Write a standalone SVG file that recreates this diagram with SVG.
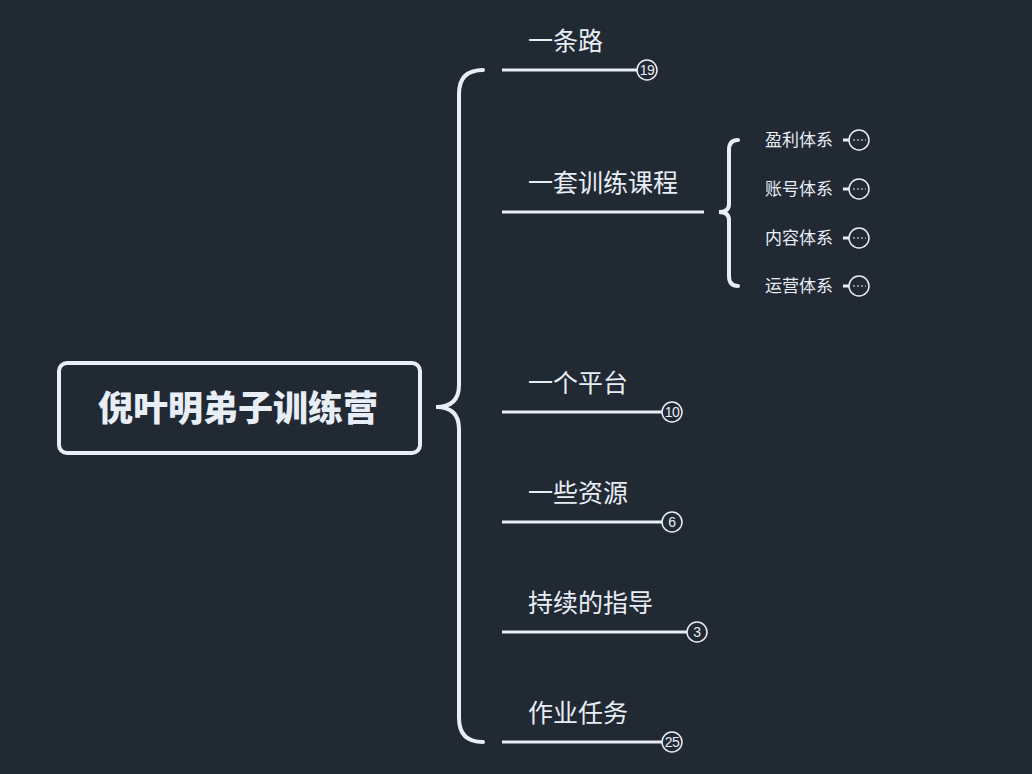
<svg xmlns="http://www.w3.org/2000/svg" width="1032" height="774" viewBox="0 0 1032 774">
<style>
.bg{fill:#212933}
.txt{fill:#e8eef6;font-family:"Noto Sans CJK SC","Noto Sans",sans-serif}
.br{fill:none;stroke:#e8eef6;stroke-width:4;stroke-linecap:round}
.ln{fill:none;stroke:#e8eef6;stroke-width:3}
.cnt{fill:#212933;stroke:#e8eef6;stroke-width:1.5}
.num{fill:#e8eef6;font-family:"Liberation Sans Narrow","Liberation Sans",sans-serif;font-size:14px;text-anchor:middle;letter-spacing:-0.5px}
.dot{stroke:#e8eef6;stroke-width:1;stroke-dasharray:2 2}
</style>
<rect class="bg" width="1032" height="774"/>
<g id="connectors">
<path class="br" d="M483,70 Q459,70 459,94 L459,385 Q459,407 436,407 Q459,407 459,429 L459,718 Q459,742 483,742"/>
<path class="br" d="M738,140 Q729,140 729,150 L729,204 Q729,212 719,212 Q729,212 729,220 L729,276 Q729,286 738,286"/>
<line class="ln" x1="502" y1="70" x2="637" y2="70"/>
<line class="ln" x1="502" y1="212" x2="704" y2="212"/>
<line class="ln" x1="502" y1="412" x2="662" y2="412"/>
<line class="ln" x1="502" y1="522" x2="662" y2="522"/>
<line class="ln" x1="502" y1="632" x2="687" y2="632"/>
<line class="ln" x1="502" y1="742" x2="662" y2="742"/>
<line class="ln" x1="843" y1="140" x2="849" y2="140"/>
<line class="ln" x1="843" y1="189" x2="849" y2="189"/>
<line class="ln" x1="843" y1="238" x2="849" y2="238"/>
<line class="ln" x1="843" y1="286" x2="849" y2="286"/>
</g>
<g id="root">
<rect x="59" y="363" width="361" height="90" rx="8" fill="#212933" stroke="#e8eef6" stroke-width="4"/>
<text class="txt" x="238" y="421" font-size="35" font-weight="900" text-anchor="middle">倪叶明弟子训练营</text>
</g>
<g id="n1">
<text class="txt" x="528" y="50" font-size="25">一条路</text>
<circle class="cnt" cx="647" cy="70" r="10"/><text class="num" x="647" y="75">19</text>
</g>
<g id="n2">
<text class="txt" x="528" y="192" font-size="25">一套训练课程</text>
</g>
<g id="n2a">
<text class="txt" x="765" y="146" font-size="17">盈利体系</text>
<circle class="cnt" cx="859" cy="140" r="10"/><line class="dot" x1="853" y1="140" x2="866" y2="140"/>
</g>
<g id="n2b">
<text class="txt" x="765" y="195" font-size="17">账号体系</text>
<circle class="cnt" cx="859" cy="189" r="10"/><line class="dot" x1="853" y1="189" x2="866" y2="189"/>
</g>
<g id="n2c">
<text class="txt" x="765" y="244" font-size="17">内容体系</text>
<circle class="cnt" cx="859" cy="238" r="10"/><line class="dot" x1="853" y1="238" x2="866" y2="238"/>
</g>
<g id="n2d">
<text class="txt" x="765" y="292" font-size="17">运营体系</text>
<circle class="cnt" cx="859" cy="286" r="10"/><line class="dot" x1="853" y1="286" x2="866" y2="286"/>
</g>
<g id="n3">
<text class="txt" x="528" y="392" font-size="25">一个平台</text>
<circle class="cnt" cx="672" cy="412" r="10"/><text class="num" x="672" y="417">10</text>
</g>
<g id="n4">
<text class="txt" x="528" y="502" font-size="25">一些资源</text>
<circle class="cnt" cx="672" cy="522" r="10"/><text class="num" x="672" y="527">6</text>
</g>
<g id="n5">
<text class="txt" x="528" y="612" font-size="25">持续的指导</text>
<circle class="cnt" cx="697" cy="632" r="10"/><text class="num" x="697" y="637">3</text>
</g>
<g id="n6">
<text class="txt" x="528" y="722" font-size="25">作业任务</text>
<circle class="cnt" cx="672" cy="742" r="10"/><text class="num" x="672" y="747">25</text>
</g>
</svg>
